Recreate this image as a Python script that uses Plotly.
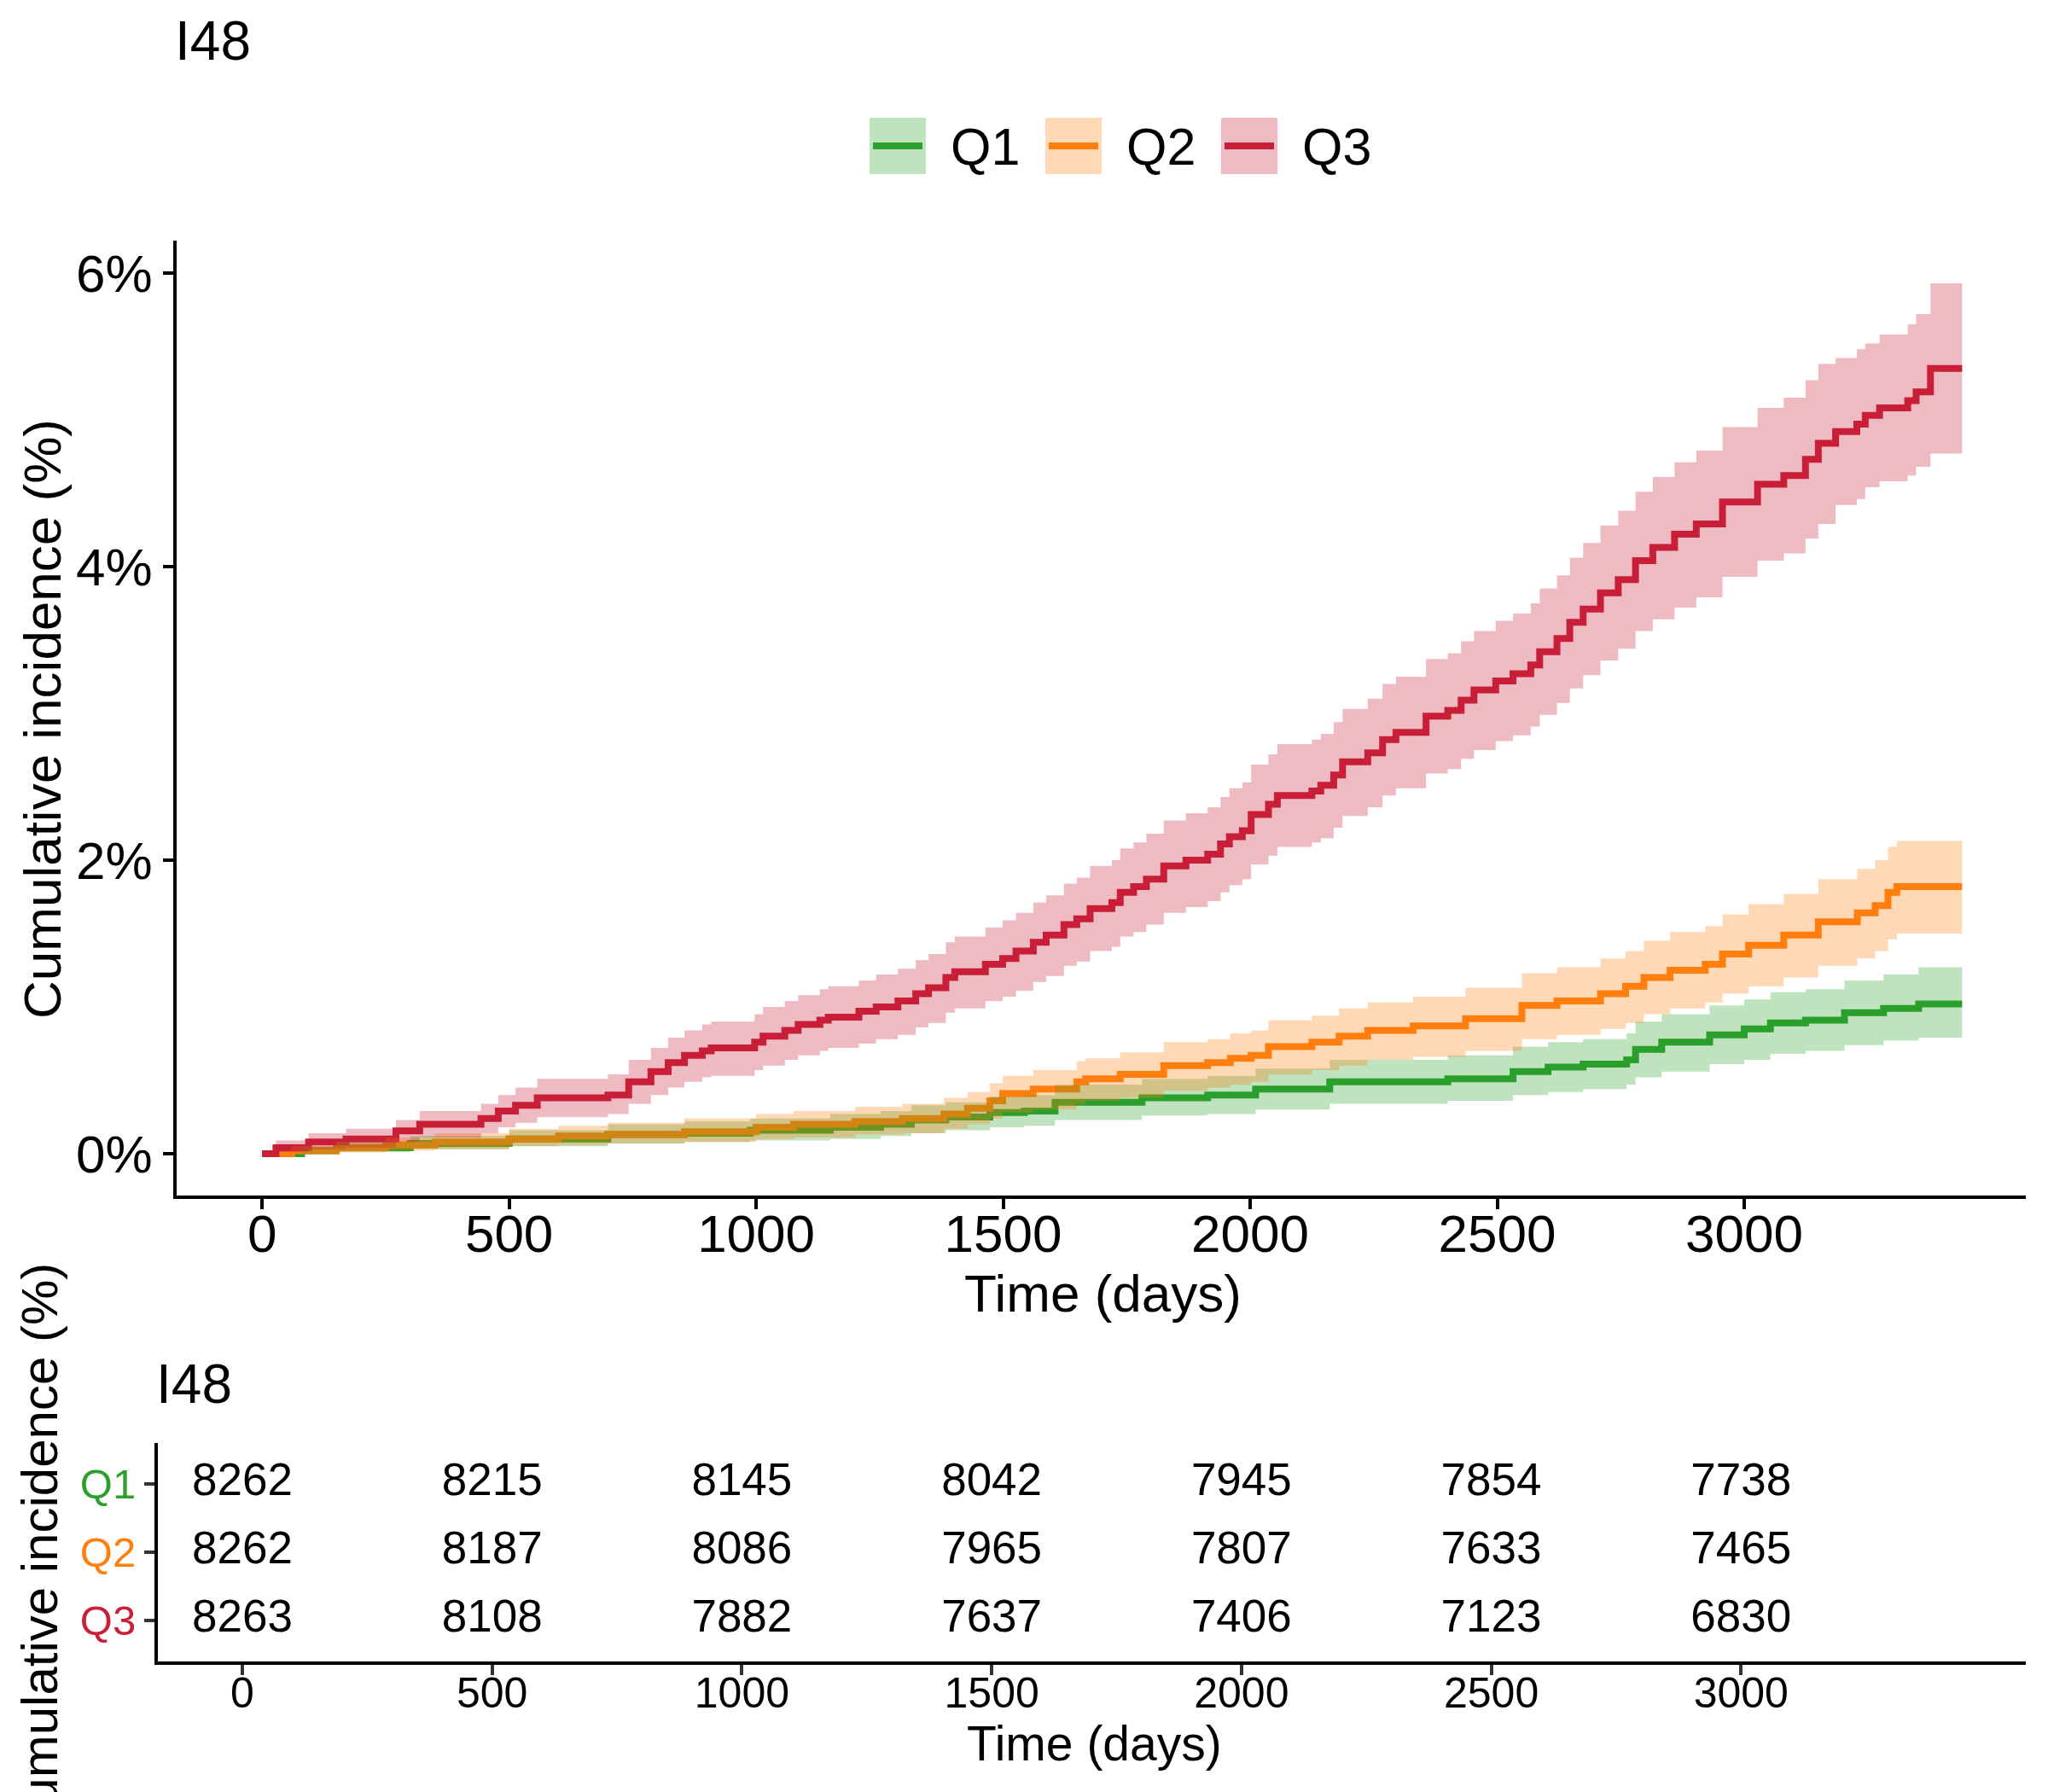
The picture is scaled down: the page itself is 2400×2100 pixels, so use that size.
import plotly.graph_objects as go

W, H = 2400, 2100
FONT = "Liberation Sans, Arial, sans-serif"

groups = ["Q1", "Q2", "Q3"]
line_colors = ["#2CA02C", "#FF7F0E", "#C91F37"]
fill_colors = ["rgba(44,160,44,0.3)", "rgba(255,127,14,0.3)", "rgba(201,31,55,0.3)"]

# cumulative incidence: (day, estimate %, lower CI %, upper CI %)
q1_data = [(0, 0, 0, 0), (80, 0.02, 0.00, 0.05), (150, 0.04, 0.01, 0.08), (300, 0.07, 0.03, 0.12),
           (500, 0.10, 0.05, 0.16), (700, 0.13, 0.07, 0.20), (855, 0.14, 0.08, 0.22),
           (988, 0.16, 0.09, 0.24), (1150, 0.18, 0.10, 0.27), (1252, 0.20, 0.12, 0.29),
           (1314, 0.23, 0.14, 0.33), (1384, 0.25, 0.16, 0.35), (1473, 0.28, 0.18, 0.39),
           (1543, 0.29, 0.19, 0.40), (1605, 0.35, 0.23, 0.47), (1781, 0.38, 0.26, 0.51),
           (1914, 0.40, 0.27, 0.53), (2011, 0.44, 0.30, 0.58), (2161, 0.49, 0.34, 0.64),
           (2400, 0.51, 0.36, 0.67), (2532, 0.56, 0.40, 0.73), (2603, 0.59, 0.42, 0.76),
           (2674, 0.61, 0.44, 0.78), (2762, 0.64, 0.47, 0.82), (2780, 0.71, 0.52, 0.90),
           (2833, 0.76, 0.56, 0.95), (2930, 0.81, 0.61, 1.01), (3000, 0.85, 0.64, 1.05),
           (3053, 0.89, 0.68, 1.10), (3124, 0.91, 0.70, 1.12), (3203, 0.96, 0.74, 1.18),
           (3282, 0.99, 0.77, 1.22), (3353, 1.02, 0.79, 1.27), (3441, 1.02, 0.79, 1.27)]

q2_data = [(0, 0, 0, 0), (60, 0.02, 0.00, 0.05), (150, 0.04, 0.01, 0.08), (250, 0.06, 0.02, 0.11),
           (350, 0.08, 0.03, 0.14), (500, 0.10, 0.05, 0.17), (600, 0.12, 0.06, 0.19),
           (700, 0.13, 0.07, 0.21), (855, 0.15, 0.08, 0.24), (1000, 0.18, 0.10, 0.27),
           (1076, 0.20, 0.11, 0.29), (1200, 0.22, 0.13, 0.32), (1296, 0.24, 0.14, 0.34),
           (1380, 0.27, 0.17, 0.38), (1428, 0.31, 0.20, 0.42), (1473, 0.36, 0.24, 0.48),
           (1499, 0.41, 0.28, 0.53), (1561, 0.44, 0.30, 0.57), (1649, 0.49, 0.34, 0.63),
           (1667, 0.51, 0.36, 0.65), (1737, 0.54, 0.38, 0.69), (1825, 0.60, 0.43, 0.76),
           (1914, 0.62, 0.45, 0.78), (1960, 0.65, 0.47, 0.82), (2002, 0.67, 0.49, 0.84),
           (2037, 0.73, 0.54, 0.91), (2125, 0.76, 0.57, 0.94), (2180, 0.80, 0.60, 0.99),
           (2238, 0.84, 0.64, 1.03), (2330, 0.87, 0.66, 1.07), (2436, 0.92, 0.70, 1.13),
           (2550, 1.01, 0.78, 1.23), (2621, 1.04, 0.81, 1.27), (2709, 1.09, 0.85, 1.33),
           (2760, 1.14, 0.89, 1.38), (2797, 1.20, 0.95, 1.45), (2850, 1.25, 0.99, 1.51),
           (2921, 1.29, 1.03, 1.55), (2956, 1.36, 1.09, 1.63), (3009, 1.42, 1.14, 1.70),
           (3080, 1.49, 1.20, 1.77), (3150, 1.58, 1.28, 1.87), (3229, 1.64, 1.33, 1.94),
           (3265, 1.69, 1.38, 2.00), (3291, 1.78, 1.46, 2.09), (3309, 1.82, 1.50, 2.13),
           (3441, 1.82, 1.50, 2.13)]

q3_data = [(0, 0, 0, 0), (28, 0.04, 0.01, 0.09), (94, 0.08, 0.03, 0.14), (170, 0.10, 0.04, 0.17),
           (271, 0.155, 0.08, 0.23), (319, 0.20, 0.11, 0.29), (443, 0.24, 0.14, 0.34),
           (478, 0.29, 0.18, 0.40), (513, 0.33, 0.21, 0.45), (557, 0.38, 0.25, 0.51),
           (700, 0.40, 0.27, 0.54), (742, 0.49, 0.34, 0.64), (787, 0.56, 0.40, 0.72),
           (822, 0.62, 0.45, 0.79), (855, 0.67, 0.49, 0.84), (891, 0.70, 0.52, 0.88),
           (909, 0.72, 0.53, 0.90), (997, 0.76, 0.57, 0.95), (1014, 0.80, 0.60, 1.00),
           (1058, 0.84, 0.64, 1.04), (1085, 0.88, 0.67, 1.08), (1129, 0.91, 0.70, 1.12),
           (1146, 0.93, 0.72, 1.14), (1208, 0.97, 0.75, 1.18), (1243, 1.00, 0.78, 1.22),
           (1287, 1.04, 0.81, 1.26), (1323, 1.09, 0.86, 1.32), (1349, 1.13, 0.89, 1.36),
           (1384, 1.20, 0.96, 1.44), (1402, 1.24, 0.99, 1.48), (1464, 1.29, 1.04, 1.54),
           (1499, 1.33, 1.07, 1.59), (1526, 1.38, 1.11, 1.64), (1561, 1.44, 1.17, 1.71),
           (1587, 1.49, 1.21, 1.76), (1623, 1.56, 1.28, 1.84), (1649, 1.60, 1.31, 1.88),
           (1676, 1.67, 1.38, 1.96), (1720, 1.71, 1.41, 2.00), (1737, 1.78, 1.48, 2.08),
           (1764, 1.82, 1.51, 2.12), (1790, 1.87, 1.56, 2.18), (1825, 1.96, 1.64, 2.27),
           (1870, 2.00, 1.68, 2.32), (1914, 2.04, 1.72, 2.36), (1940, 2.11, 1.78, 2.43),
           (1958, 2.16, 1.83, 2.49), (1984, 2.20, 1.87, 2.53), (2002, 2.31, 1.97, 2.65),
           (2037, 2.38, 2.03, 2.72), (2055, 2.44, 2.09, 2.79), (2125, 2.47, 2.12, 2.82),
           (2143, 2.51, 2.15, 2.86), (2169, 2.58, 2.22, 2.94), (2187, 2.67, 2.30, 3.03),
           (2238, 2.73, 2.36, 3.10), (2268, 2.82, 2.44, 3.20), (2295, 2.87, 2.49, 3.25),
           (2356, 2.98, 2.59, 3.37), (2400, 3.02, 2.62, 3.41), (2427, 3.09, 2.69, 3.49),
           (2453, 3.16, 2.75, 3.56), (2497, 3.22, 2.81, 3.63), (2532, 3.27, 2.85, 3.68),
           (2568, 3.33, 2.91, 3.75), (2586, 3.42, 2.99, 3.85), (2621, 3.51, 3.07, 3.94),
           (2647, 3.62, 3.17, 4.06), (2674, 3.71, 3.26, 4.16), (2709, 3.82, 3.36, 4.28),
           (2745, 3.91, 3.44, 4.38), (2780, 4.04, 3.56, 4.51), (2815, 4.13, 3.64, 4.61),
           (2859, 4.22, 3.72, 4.71), (2903, 4.29, 3.79, 4.79), (2956, 4.44, 3.93, 4.95),
           (3027, 4.56, 4.04, 5.08), (3080, 4.62, 4.09, 5.15), (3124, 4.73, 4.19, 5.27),
           (3150, 4.84, 4.29, 5.38), (3185, 4.92, 4.42, 5.42), (3228, 4.97, 4.46, 5.48),
           (3245, 5.03, 4.54, 5.52), (3274, 5.08, 4.58, 5.58), (3331, 5.13, 4.62, 5.65),
           (3348, 5.19, 4.68, 5.72), (3377, 5.35, 4.77, 5.93), (3441, 5.35, 4.77, 5.93)]

# number at risk table
risk_times = [0, 500, 1000, 1500, 2000, 2500, 3000]
risk_q1 = [8262, 8215, 8145, 8042, 7945, 7854, 7738]
risk_q2 = [8262, 8187, 8086, 7965, 7807, 7633, 7465]
risk_q3 = [8263, 8108, 7882, 7637, 7406, 7123, 6830]

x_ticks = [0, 500, 1000, 1500, 2000, 2500, 3000]
y_ticks = [0, 2, 4, 6]
y_tick_labels = ["0%", "2%", "4%", "6%"]

datasets = [q1_data, q2_data, q3_data]
risks = [risk_q1, risk_q2, risk_q3]
rows = [3, 2, 1]


def px(p):
    return p / W


def py(p):
    return 1 - p / H


fig = go.Figure()

# step lines first (ribbons drawn on top, as in the original)
for g, c, d in zip(groups, line_colors, datasets):
    fig.add_trace(go.Scatter(
        x=[r[0] for r in d], y=[r[1] for r in d], mode="lines",
        line=dict(color=c, width=8, shape="hv"), name=g, showlegend=False,
        xaxis="x", yaxis="y", hoverinfo="skip"))

for g, f, d in zip(groups, fill_colors, datasets):
    xs = [r[0] for r in d]
    fig.add_trace(go.Scatter(
        x=xs, y=[r[2] for r in d], mode="lines",
        line=dict(width=0, shape="hv"), showlegend=False, hoverinfo="skip",
        xaxis="x", yaxis="y"))
    fig.add_trace(go.Scatter(
        x=xs, y=[r[3] for r in d], mode="lines",
        line=dict(width=0, shape="hv"), fill="tonexty", fillcolor=f,
        showlegend=False, hoverinfo="skip", xaxis="x", yaxis="y"))

# risk table
for r, vals in zip(rows, risks):
    fig.add_trace(go.Scatter(
        x=risk_times, y=[r] * len(risk_times), mode="text",
        text=[str(v) for v in vals], textposition="middle center",
        textfont=dict(family=FONT, size=53, color="black"),
        showlegend=False, hoverinfo="skip", xaxis="x2", yaxis="y2", cliponaxis=False))

axis_common = dict(showgrid=False, zeroline=False, showline=True, linecolor="black",
                   linewidth=4, ticks="outside", ticklen=12, tickwidth=4)

layout_annotations = [
    dict(text="I48", x=px(203), y=py(48), xref="paper", yref="paper", xanchor="left",
         yanchor="middle", showarrow=False, font=dict(family=FONT, size=64, color="black")),
    dict(text="Cumulative incidence (%)", x=px(49), y=py(843), xref="paper", yref="paper",
         textangle=-90, xanchor="center", yanchor="middle", showarrow=False,
         font=dict(family=FONT, size=62, color="black")),
    dict(text="Time (days)", x=px(1292), y=py(1515), xref="paper", yref="paper",
         xanchor="center", yanchor="middle", showarrow=False,
         font=dict(family=FONT, size=62, color="black")),
    dict(text="I48", x=px(181), y=py(1622), xref="paper", yref="paper", xanchor="left",
         yanchor="middle", showarrow=False, font=dict(family=FONT, size=64, color="black")),
    dict(text="Cumulative incidence (%)", x=px(46), y=py(1820), xref="paper", yref="paper",
         textangle=-90, xanchor="center", yanchor="middle", showarrow=False,
         font=dict(family=FONT, size=60, color="black")),
    dict(text="Time (days)", x=px(1282), y=py(2043), xref="paper", yref="paper",
         xanchor="center", yanchor="middle", showarrow=False,
         font=dict(family=FONT, size=57, color="black")),
]

# manual legend (filled key with line)
shapes = []
key_left = [1019, 1225, 1431]
for g, c, f, kx in zip(groups, line_colors, fill_colors, key_left):
    shapes.append(dict(type="rect", xref="paper", yref="paper", x0=px(kx), x1=px(kx + 66),
                       y0=py(204), y1=py(138), fillcolor=f, line=dict(width=0), layer="above"))
    shapes.append(dict(type="line", xref="paper", yref="paper", x0=px(kx + 4), x1=px(kx + 62),
                       y0=py(171), y1=py(171), line=dict(color=c, width=8), layer="above"))
    layout_annotations.append(dict(text=g, x=px(kx + 93), y=py(172), xref="paper", yref="paper",
                                   xanchor="left", yanchor="middle", showarrow=False,
                                   font=dict(family=FONT, size=61, color="black")))

fig.update_layout(
    width=W, height=H, margin=dict(l=0, r=0, t=0, b=0),
    paper_bgcolor="white", plot_bgcolor="white", showlegend=False,
    font=dict(family=FONT, color="black"),
    xaxis=dict(domain=[px(207), px(2374)], range=[-173, 3570], tickvals=x_ticks,
               tickfont=dict(size=62, color="black"), tickcolor="black", anchor="y",
               ticklabelstandoff=-24, **axis_common),
    yaxis=dict(domain=[py(1401), py(282)], range=[-0.285, 6.22], tickvals=y_ticks,
               ticktext=y_tick_labels, tickfont=dict(size=62, color="black"),
               tickcolor="black", anchor="x", **axis_common),
    xaxis2=dict(domain=[px(185), px(2374)], range=[-169, 3570], tickvals=x_ticks,
                tickfont=dict(size=50, color="black"), tickcolor="#333333", anchor="y2",
                ticklabelstandoff=-22, **axis_common),
    yaxis2=dict(domain=[py(1947), py(1691)], range=[0.4, 3.6], tickvals=rows,
                ticktext=[f'<span style="color:{c}">{g}</span>' for g, c in zip(groups, line_colors)],
                tickfont=dict(size=49), tickcolor="#333333", anchor="x2", **axis_common),
    annotations=layout_annotations,
    shapes=shapes,
)

fig.write_html("out.html", config={"displayModeBar": False},
               post_script="document.body.style.margin='0';document.body.style.padding='0';")
